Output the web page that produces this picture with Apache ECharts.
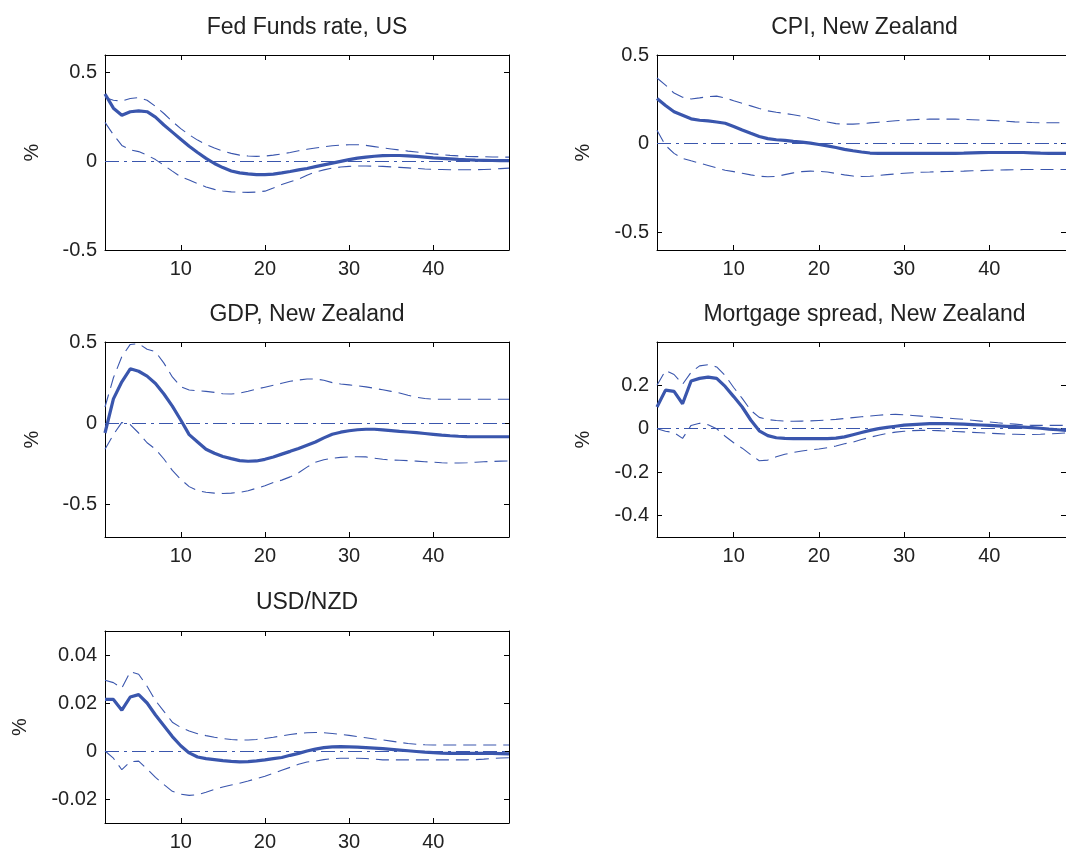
<!DOCTYPE html>
<html>
<head>
<meta charset="utf-8">
<script src="https://cdn.jsdelivr.net/npm/echarts@6/dist/echarts.min.js"></script>
<style>
html,body{margin:0;padding:0;background:#fff;}
#chart{width:1066px;height:852px;}
</style>
</head>
<body>
<div id="chart"></div>
<script>
// ---------- data ----------
const horizon = [1,2,3,4,5,6,7,8,9,10,11,12,13,14,15,16,17,18,19,20,21,22,23,24,25,26,27,28,29,30,31,32,33,34,35,36,37,38,39,40,41,42,43,44,45,46,47,48,49];
const xTickValues = [10,20,30,40];

const titles = ['Fed Funds rate, US','CPI, New Zealand','GDP, New Zealand','Mortgage spread, New Zealand','USD/NZD'];
const yUnit = '%';

const fedMid = [0.38,0.30,0.26,0.28,0.285,0.28,0.25,0.205,0.165,0.125,
  0.085,0.05,0.017,-0.012,-0.035,-0.054,-0.065,-0.071,-0.075,-0.075,
  -0.072,-0.065,-0.057,-0.048,-0.04,-0.03,-0.02,-0.01,0.0,0.01,
  0.018,0.024,0.029,0.032,0.033,0.033,0.031,0.028,0.024,0.02,
  0.017,0.014,0.011,0.009,0.007,0.006,0.005,0.004,0.004];
const fedUp = [0.36,0.345,0.34,0.355,0.36,0.345,0.31,0.27,0.225,0.185,
  0.15,0.12,0.095,0.075,0.058,0.045,0.035,0.03,0.028,0.03,
  0.035,0.042,0.05,0.06,0.068,0.075,0.082,0.088,0.092,0.094,
  0.094,0.09,0.083,0.076,0.07,0.064,0.058,0.053,0.047,0.042,
  0.038,0.034,0.031,0.028,0.027,0.026,0.025,0.024,0.024];
const fedLo = [0.22,0.15,0.09,0.065,0.055,0.035,0.01,-0.022,-0.055,-0.087,
  -0.105,-0.125,-0.145,-0.158,-0.167,-0.172,-0.174,-0.175,-0.173,-0.168,
  -0.15,-0.13,-0.115,-0.1,-0.078,-0.06,-0.048,-0.038,-0.032,-0.028,
  -0.026,-0.026,-0.027,-0.028,-0.031,-0.034,-0.037,-0.04,-0.043,-0.045,
  -0.046,-0.047,-0.047,-0.047,-0.047,-0.046,-0.044,-0.041,-0.038];

const cpiMid = [0.255,0.215,0.18,0.16,0.14,0.132,0.128,0.122,0.115,0.097,
  0.077,0.058,0.04,0.028,0.022,0.018,0.013,0.009,0.003,-0.005,
  -0.013,-0.022,-0.032,-0.04,-0.047,-0.053,-0.055,-0.055,-0.055,-0.055,
  -0.055,-0.055,-0.055,-0.055,-0.055,-0.055,-0.054,-0.052,-0.051,-0.05,
  -0.05,-0.05,-0.05,-0.05,-0.052,-0.054,-0.055,-0.055,-0.055];
const cpiUp = [0.37,0.33,0.285,0.262,0.252,0.258,0.265,0.268,0.258,0.242,
  0.228,0.213,0.198,0.185,0.177,0.17,0.163,0.154,0.143,0.132,
  0.122,0.113,0.11,0.11,0.113,0.117,0.121,0.125,0.129,0.132,
  0.135,0.137,0.138,0.138,0.138,0.138,0.137,0.135,0.133,0.131,
  0.129,0.126,0.123,0.121,0.119,0.118,0.118,0.118,0.118];
const cpiLo = [0.075,-0.01,-0.055,-0.083,-0.097,-0.11,-0.123,-0.137,-0.15,-0.158,
  -0.167,-0.176,-0.184,-0.187,-0.185,-0.175,-0.165,-0.158,-0.155,-0.156,
  -0.16,-0.168,-0.176,-0.183,-0.185,-0.184,-0.18,-0.175,-0.171,-0.167,
  -0.164,-0.161,-0.16,-0.158,-0.157,-0.156,-0.155,-0.153,-0.152,-0.15,
  -0.149,-0.148,-0.147,-0.146,-0.146,-0.146,-0.146,-0.146,-0.146];

const gdpMid = [-0.06,0.15,0.255,0.335,0.32,0.29,0.245,0.18,0.105,0.02,
  -0.07,-0.115,-0.16,-0.185,-0.205,-0.218,-0.23,-0.234,-0.232,-0.222,
  -0.208,-0.19,-0.173,-0.155,-0.135,-0.115,-0.09,-0.068,-0.055,-0.046,
  -0.04,-0.037,-0.037,-0.041,-0.045,-0.05,-0.054,-0.058,-0.063,-0.068,
  -0.073,-0.077,-0.08,-0.082,-0.083,-0.083,-0.083,-0.083,-0.083];
const gdpUp = [0.1,0.28,0.41,0.485,0.49,0.455,0.44,0.37,0.285,0.225,
  0.205,0.2,0.196,0.19,0.182,0.18,0.185,0.197,0.21,0.222,
  0.234,0.246,0.258,0.266,0.272,0.272,0.265,0.25,0.242,0.236,
  0.23,0.224,0.215,0.206,0.196,0.186,0.172,0.16,0.152,0.148,
  0.148,0.148,0.148,0.148,0.148,0.148,0.148,0.148,0.148];
const gdpLo = [-0.16,-0.07,0.005,-0.008,-0.06,-0.12,-0.16,-0.22,-0.29,-0.345,
  -0.39,-0.415,-0.425,-0.43,-0.432,-0.43,-0.425,-0.415,-0.4,-0.385,
  -0.365,-0.35,-0.33,-0.305,-0.27,-0.24,-0.225,-0.215,-0.21,-0.207,
  -0.206,-0.207,-0.215,-0.222,-0.226,-0.228,-0.23,-0.233,-0.237,-0.24,
  -0.243,-0.245,-0.245,-0.243,-0.24,-0.237,-0.235,-0.233,-0.232];

const mortMid = [0.1,0.178,0.172,0.115,0.22,0.232,0.238,0.232,0.195,0.148,
  0.1,0.04,-0.01,-0.032,-0.042,-0.045,-0.046,-0.046,-0.046,-0.046,
  -0.046,-0.044,-0.038,-0.028,-0.018,-0.008,0.0,0.006,0.011,0.016,
  0.019,0.021,0.023,0.023,0.023,0.022,0.021,0.019,0.017,0.015,
  0.013,0.011,0.009,0.007,0.005,0.002,-0.002,-0.005,-0.008];
const mortUp = [0.2,0.268,0.25,0.205,0.26,0.29,0.295,0.285,0.245,0.19,
  0.14,0.085,0.052,0.042,0.038,0.035,0.034,0.035,0.036,0.038,
  0.04,0.043,0.047,0.051,0.055,0.058,0.062,0.065,0.066,0.064,
  0.061,0.058,0.055,0.052,0.049,0.046,0.043,0.039,0.035,0.031,
  0.027,0.024,0.021,0.018,0.015,0.015,0.015,0.015,0.015];
const mortLo = [0.0,-0.012,-0.018,-0.045,0.015,0.025,0.018,0.0,-0.035,-0.065,
  -0.09,-0.12,-0.148,-0.145,-0.13,-0.118,-0.11,-0.103,-0.098,-0.094,
  -0.088,-0.08,-0.07,-0.062,-0.05,-0.04,-0.03,-0.022,-0.016,-0.012,
  -0.009,-0.008,-0.008,-0.009,-0.011,-0.013,-0.015,-0.017,-0.019,-0.021,
  -0.023,-0.025,-0.026,-0.027,-0.027,-0.026,-0.024,-0.022,-0.02];

const usdMid = [0.0215,0.0215,0.017,0.0225,0.0235,0.02,0.015,0.0105,0.006,0.0022,
  -0.0008,-0.0025,-0.0032,-0.0036,-0.004,-0.0043,-0.0045,-0.0044,-0.0041,-0.0037,
  -0.0032,-0.0027,-0.0018,-0.001,0.0,0.0008,0.0014,0.0017,0.0018,0.0017,
  0.0016,0.0014,0.0012,0.001,0.0007,0.0004,0.0001,-0.0002,-0.0005,-0.0007,
  -0.0009,-0.001,-0.001,-0.001,-0.001,-0.001,-0.001,-0.0011,-0.0012];
const usdUp = [0.0295,0.0285,0.0262,0.033,0.032,0.027,0.021,0.0165,0.012,0.0098,
  0.0083,0.0072,0.0064,0.0057,0.0052,0.0048,0.0046,0.0046,0.0048,0.0052,
  0.0057,0.0063,0.0069,0.0073,0.0076,0.0077,0.0076,0.0073,0.0069,0.0065,
  0.006,0.0055,0.005,0.0046,0.0041,0.0036,0.0031,0.0028,0.0026,0.0025,
  0.0025,0.0025,0.0025,0.0025,0.0025,0.0025,0.0025,0.0025,0.0025];
const usdLo = [0.0,-0.003,-0.0078,-0.0045,-0.0042,-0.0075,-0.011,-0.014,-0.0168,-0.018,
  -0.0185,-0.0182,-0.0172,-0.016,-0.015,-0.0142,-0.0134,-0.0125,-0.0115,-0.0105,
  -0.0093,-0.008,-0.0068,-0.0055,-0.0046,-0.0042,-0.0036,-0.0032,-0.003,-0.003,
  -0.003,-0.0031,-0.0034,-0.0037,-0.0037,-0.0037,-0.0037,-0.0037,-0.0037,-0.0037,
  -0.0037,-0.0037,-0.0037,-0.0037,-0.0036,-0.0034,-0.0031,-0.0029,-0.0028];

const yRanges = [[-0.5,0.6],[-0.6,0.5],[-0.7,0.5],[-0.5,0.4],[-0.03,0.05]];
const yTicks = [[-0.5,0,0.5],[-0.5,0,0.5],[-0.5,0,0.5],[-0.4,-0.2,0,0.2],[-0.02,0,0.02,0.04]];

const seriesSets = [
  [fedMid, fedUp, fedLo],
  [cpiMid, cpiUp, cpiLo],
  [gdpMid, gdpUp, gdpLo],
  [mortMid, mortUp, mortLo],
  [usdMid, usdUp, usdLo]
];

// ---------- layout / style ----------
const layout = [
  {left:105, top:55,  width:404, height:195, titleY:28,  pctX:32},
  {left:657, top:55,  width:415, height:195, titleY:28,  pctX:583},
  {left:105, top:342, width:404, height:195, titleY:315, pctX:32},
  {left:657, top:342, width:415, height:195, titleY:315, pctX:583},
  {left:105, top:631, width:404, height:192, titleY:603, pctX:20}
];
const LINE = '#3a56ad';
const FONT = "'Liberation Sans', Arial, sans-serif";
const TXT = '#222';

const grids = [], xAxes = [], yAxes = [], series = [], graphics = [];
layout.forEach((g, i) => {
  grids.push({left:g.left, top:g.top, width:g.width, height:g.height, containLabel:false});
  const axLine = {show:true, onZero:false, lineStyle:{color:'#000', width:1}};
  const xBase = {gridIndex:i, type:'value', min:1, max:49, splitLine:{show:false}, axisLine:axLine};
  xAxes.push(Object.assign({}, xBase, {
    position:'bottom',
    axisTick:{show:true, inside:true, length:5, lineStyle:{color:'#000'}, customValues:xTickValues},
    axisLabel:{show:true, customValues:xTickValues, fontSize:20, fontFamily:FONT, color:TXT, margin:9}
  }));
  xAxes.push(Object.assign({}, xBase, {
    position:'top',
    axisTick:{show:true, inside:true, length:5, lineStyle:{color:'#000'}, customValues:xTickValues},
    axisLabel:{show:false}
  }));
  const yBase = {gridIndex:i, type:'value', min:yRanges[i][0], max:yRanges[i][1], splitLine:{show:false}, axisLine:axLine};
  yAxes.push(Object.assign({}, yBase, {
    position:'left',
    axisTick:{show:true, inside:true, length:5, lineStyle:{color:'#000'}, customValues:yTicks[i]},
    axisLabel:{show:true, customValues:yTicks[i], fontSize:20, fontFamily:FONT, color:TXT, margin:8}
  }));
  yAxes.push(Object.assign({}, yBase, {
    position:'right',
    axisTick:{show:true, inside:true, length:5, lineStyle:{color:'#000'}, customValues:yTicks[i]},
    axisLabel:{show:false}
  }));

  const [mid, up, lo] = seriesSets[i];
  const toPairs = arr => horizon.map((h, k) => [h, arr[k]]);
  const xi = i * 2, yi = i * 2;
  series.push({
    type:'line', xAxisIndex:xi, yAxisIndex:yi, data:toPairs(up), showSymbol:false, symbol:'none',
    lineStyle:{color:LINE, width:1.1, type:[13,7]}, z:3
  });
  series.push({
    type:'line', xAxisIndex:xi, yAxisIndex:yi, data:toPairs(lo), showSymbol:false, symbol:'none',
    lineStyle:{color:LINE, width:1.1, type:[13,7]}, z:3
  });
  series.push({
    type:'line', xAxisIndex:xi, yAxisIndex:yi, data:toPairs(mid), showSymbol:false, symbol:'none',
    lineStyle:{color:LINE, width:3.2}, z:4,
    markLine:{silent:true, symbol:'none', label:{show:false},
      lineStyle:{color:LINE, width:1.2, type:[14,5,3,5]},
      data:[{yAxis:0}]}
  });

  graphics.push({
    type:'text', x:g.left + g.width/2, y:g.titleY,
    style:{text:titles[i], font:"23px " + FONT, fill:TXT, textAlign:'center', textVerticalAlign:'middle'}
  });
  graphics.push({
    type:'text', x:g.pctX, y:g.top + g.height/2, rotation:Math.PI/2,
    style:{text:yUnit, font:"20px " + FONT, fill:TXT, textAlign:'center', textVerticalAlign:'middle'}
  });
});

const chart = echarts.init(document.getElementById('chart'), null, {renderer:'canvas'});
chart.setOption({
  animation:false,
  backgroundColor:'#fff',
  grid:grids, xAxis:xAxes, yAxis:yAxes, series:series,
  graphic:graphics
});
</script>
</body>
</html>
